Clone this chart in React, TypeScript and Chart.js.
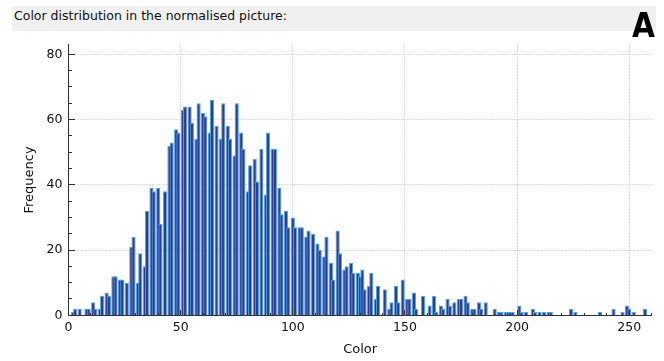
import { useEffect, useRef } from "react";
import { Chart, registerables } from "chart.js";

Chart.register(...registerables);

// Non-empty histogram bins (colour value) and their frequencies
const colorBins = [
  2, 3, 5, 8, 9, 11, 12, 14, 15, 17,
  18, 20, 21, 23, 24, 26, 28, 29, 31, 32,
  34, 35, 37, 38, 40, 41, 43, 45, 46, 48,
  49, 51, 52, 54, 55, 57, 58, 60, 61, 63,
  64, 66, 68, 69, 71, 72, 74, 75, 77, 78,
  80, 81, 83, 84, 86, 88, 89, 91, 92, 94,
  95, 97, 98, 100, 101, 103, 104, 106, 107, 109,
  111, 112, 114, 115, 117, 118, 120, 121, 123, 124,
  126, 127, 129, 130, 131, 132, 134, 135, 137, 138,
  141, 143, 144, 146, 147, 149, 151, 152, 154, 155,
  158, 161, 163, 164, 166, 167, 169, 170, 172, 174,
  175, 177, 178, 180, 181, 183, 184, 186, 190, 192,
  193, 195, 196, 197, 198, 201, 202, 204, 207, 208,
  210, 212, 214, 215, 224, 226, 237, 243, 247, 249,
  250, 252, 257,
];
const frequencies = [
  1, 2, 2, 2, 2, 4, 2, 2, 6, 7,
  6, 12, 12, 11, 11, 10, 21, 24, 10, 19,
  15, 32, 39, 38, 39, 28, 38, 52, 53, 57,
  56, 63, 64, 64, 59, 54, 65, 62, 61, 56,
  66, 58, 54, 65, 58, 54, 49, 65, 56, 51,
  38, 46, 48, 41, 51, 37, 56, 51, 51, 39,
  31, 32, 27, 30, 27, 27, 27, 24, 26, 25,
  22, 20, 18, 24, 16, 11, 26, 19, 14, 15,
  16, 13, 13, 12, 14, 8, 9, 13, 5, 9,
  8, 2, 4, 9, 4, 11, 5, 5, 7, 2,
  6, 3, 6, 1, 3, 2, 5, 3, 4, 5,
  5, 6, 4, 2, 2, 4, 2, 4, 2, 1,
  1, 1, 1, 1, 1, 3, 1, 1, 2, 1,
  1, 1, 1, 1, 2, 1, 1, 2, 1, 3,
  2, 1, 2,
];

const xTickValues = [0, 50, 100, 150, 200, 250];
const yTickValues = [0, 20, 40, 60, 80];
const X_MAX = 260;
const Y_MAX = 83;

const chartTitle = "Color distribution in the normalised picture:";
const panelLabel = "A";
const xAxisTitle = "Color";
const yAxisTitle = "Frequency";

const FONT = "'DejaVu Sans', Verdana, sans-serif";
const AXIS_COLOR = "#333333";

const gridAndTicks = {
  id: "gridAndTicks",
  beforeDatasetsDraw(chart: any) {
    const { ctx, chartArea: a, scales } = chart;
    const x = scales.x;
    const y = scales.y;
    ctx.save();
    ctx.strokeStyle = "#bcbcbc";
    ctx.lineWidth = 1;
    ctx.setLineDash([1, 2]);
    for (const v of xTickValues) {
      if (v === 0) continue;
      const px = Math.floor(x.getPixelForValue(v)) + 0.5;
      ctx.beginPath();
      ctx.moveTo(px, a.top);
      ctx.lineTo(px, a.bottom);
      ctx.stroke();
    }
    for (const v of yTickValues) {
      if (v === 0) continue;
      const py = Math.floor(y.getPixelForValue(v)) + 0.5;
      ctx.beginPath();
      ctx.moveTo(a.left, py);
      ctx.lineTo(a.right, py);
      ctx.stroke();
    }
    ctx.restore();
  },
  afterDatasetsDraw(chart: any) {
    const { ctx, chartArea: a, scales } = chart;
    const x = scales.x;
    const y = scales.y;
    ctx.save();
    ctx.strokeStyle = AXIS_COLOR;
    ctx.lineWidth = 1;
    ctx.setLineDash([]);
    const bottom = Math.floor(a.bottom);
    for (let v = 0; v <= X_MAX; v += 10) {
      const major = v % 50 === 0;
      const len = major ? 5 : 2;
      const px = Math.floor(x.getPixelForValue(v)) + 0.5;
      ctx.beginPath();
      ctx.moveTo(px, bottom);
      ctx.lineTo(px, bottom - len);
      ctx.stroke();
    }
    const left = Math.floor(a.left);
    for (let v = 0; v <= 80; v += 5) {
      const major = v % 20 === 0;
      const len = major ? 6 : 3;
      const py = Math.floor(y.getPixelForValue(v)) + 0.5;
      ctx.beginPath();
      ctx.moveTo(left, py);
      ctx.lineTo(left + 1 + len, py);
      ctx.stroke();
    }
    ctx.restore();
  },
};

export default function App() {
  const canvasRef = useRef<HTMLCanvasElement | null>(null);

  useEffect(() => {
    const canvas = canvasRef.current;
    if (!canvas) return;
    const chart = new Chart(canvas, {
      type: "bar",
      data: {
        datasets: [
          {
            data: colorBins.map((b, i) => ({ x: b, y: frequencies[i] })),
            backgroundColor: "#2d3c94",
            borderColor: "#48a8e8",
            borderWidth: { top: 1, left: 1, right: 1, bottom: 0 },
            borderSkipped: false,
            barThickness: 4.2,
            inflateAmount: 0,
          } as any,
        ],
      },
      options: {
        responsive: false,
        animation: false,
        events: [],
        layout: { padding: { top: 44.5, right: 12.3, bottom: 0, left: 0 } },
        plugins: {
          legend: { display: false },
          tooltip: { enabled: false },
          title: { display: false },
        },
        scales: {
          x: {
            type: "linear",
            min: 0,
            max: X_MAX,
            offset: false,
            grid: { display: false, drawTicks: false, tickLength: 0 },
            border: { display: true, color: AXIS_COLOR, width: 1 },
            ticks: {
              stepSize: 50,
              includeBounds: false,
              autoSkip: false,
              maxRotation: 0,
              padding: 5,
              color: "#111111",
              font: { family: FONT, size: 12.5 },
            },
            title: {
              display: true,
              text: xAxisTitle,
              color: "#111111",
              font: { family: FONT, size: 13 },
              padding: { top: 0, bottom: 4 },
            },
            afterFit(s: any) {
              s.height = 45.7;
            },
          },
          y: {
            type: "linear",
            min: 0,
            max: Y_MAX,
            grid: { display: false, drawTicks: false, tickLength: 0 },
            border: { display: true, color: AXIS_COLOR, width: 1 },
            ticks: {
              stepSize: 20,
              includeBounds: false,
              padding: 6,
              color: "#111111",
              font: { family: FONT, size: 12.5 },
            },
            title: {
              display: true,
              text: yAxisTitle,
              color: "#111111",
              font: { family: FONT, size: 13 },
              padding: { top: 22, bottom: 0 },
            },
            afterFit(s: any) {
              s.width = 68.5;
            },
          },
        },
      } as any,
      plugins: [gridAndTicks],
    });
    return () => chart.destroy();
  }, []);

  return (
    <div
      style={{
        position: "fixed",
        left: 0,
        top: 0,
        width: 664,
        height: 361,
        background: "#ffffff",
        overflow: "hidden",
      }}
    >
      <canvas
        ref={canvasRef}
        width={664}
        height={361}
        style={{ position: "absolute", left: 0, top: 0, width: 664, height: 361 }}
      />
      <div
        style={{
          position: "absolute",
          left: 12,
          top: 6,
          width: 644,
          height: 25,
          background: "#f0f0f0",
        }}
      />
      <div
        style={{
          position: "absolute",
          left: 14,
          top: 9,
          fontFamily: FONT,
          fontSize: 12.5,
          lineHeight: "14px",
          color: "#111111",
          whiteSpace: "nowrap",
        }}
      >
        {chartTitle}
      </div>
      <div
        style={{
          position: "absolute",
          left: 632,
          top: 9,
          fontFamily: "'Liberation Sans Narrow', 'DejaVu Sans Condensed', 'Liberation Sans', sans-serif",
          fontWeight: "bold",
          fontSize: 33,
          lineHeight: "33px",
          color: "#000000",
        }}
      >
        {panelLabel}
      </div>
    </div>
  );
}
